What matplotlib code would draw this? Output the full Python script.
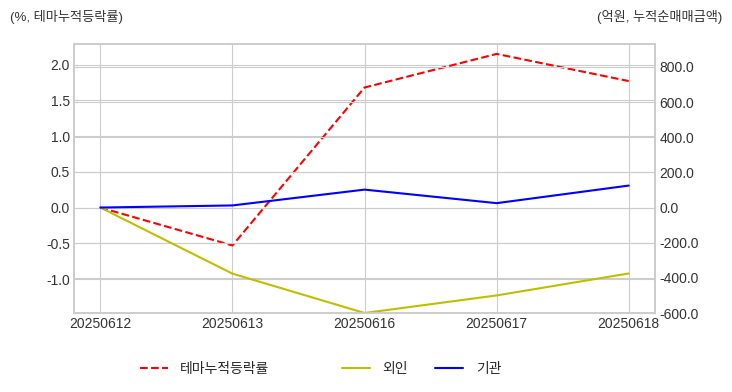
import matplotlib
matplotlib.use("Agg")
import matplotlib.pyplot as plt
from matplotlib.ticker import FormatStrFormatter

# data
dates = ["20250612", "20250613", "20250616", "20250617", "20250618"]
theme_cum = [0.0, -0.53, 1.68, 2.15, 1.77]          # %, 테마누적등락률
foreign_net = [0.0, -376.0, -600.0, -500.0, -375.0]  # 억원, 외인
inst_net = [0.0, 12.0, 102.0, 25.0, 125.0]           # 억원, 기관

plt.style.use("seaborn-v0_8-whitegrid")
plt.rcParams["font.family"] = ["Liberation Sans", "Noto Sans CJK KR"]
plt.rcParams["axes.unicode_minus"] = False

fig = plt.figure(figsize=(7.32, 3.92), dpi=100)
ax1 = fig.add_axes([0.101, 0.2015, 0.794, 0.6865])
ax2 = ax1.twinx()

x = range(len(dates))
l1, = ax1.plot(x, theme_cum, color="r", linestyle="--", linewidth=1.5, label="테마누적등락률")
l2, = ax2.plot(x, foreign_net, color="y", linewidth=1.5, label="외인")
l3, = ax2.plot(x, inst_net, color="b", linewidth=1.5, label="기관")

ax1.set_xticks(list(x))
ax1.set_xticklabels(dates)
ax1.set_xlim(-0.2, 4.2)

# zero aligned on both axes
ax1.set_ylim(-1.475, 2.29)
ax2.set_ylim(-600, 931)
ax1.set_yticks([-1.0, -0.5, 0.0, 0.5, 1.0, 1.5, 2.0])
ax2.set_yticks([-600, -400, -200, 0, 200, 400, 600, 800])
ax1.yaxis.set_major_formatter(FormatStrFormatter("%.1f"))
ax2.yaxis.set_major_formatter(FormatStrFormatter("%.1f"))

for ax in (ax1, ax2):
    ax.tick_params(labelsize=10, colors="#333333", length=0, pad=3)
    for sp in ax.spines.values():
        sp.set_color("#cccccc")
        sp.set_linewidth(1.2)
ax2.grid(True, color="#cccccc")

fig.text(0.013, 0.957, "(%, 테마누적등락률)", fontsize=9.5, color="#333333", va="center", ha="left")
fig.text(0.986, 0.957, "(억원, 누적순매매금액)", fontsize=9.5, color="#333333", va="center", ha="right")

fig.legend(handles=[l1], loc="center left", bbox_to_anchor=(0.174, 0.059),
           frameon=False, fontsize=10, handletextpad=0.9)
fig.legend(handles=[l2, l3], loc="center left", bbox_to_anchor=(0.450, 0.059),
           frameon=False, fontsize=10, ncol=2, handletextpad=0.9)

fig.savefig("out.png", dpi=100)
